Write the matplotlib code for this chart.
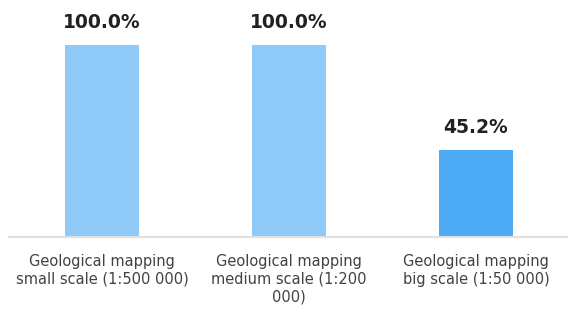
import matplotlib
matplotlib.use("Agg")
import matplotlib.pyplot as plt

categories = ["Geological mapping\nsmall scale (1:500 000)",
              "Geological mapping\nmedium scale (1:200\n000)",
              "Geological mapping\nbig scale (1:50 000)"]
values = [100.0, 100.0, 45.2]
colors = ["#90caf9", "#90caf9", "#4dabf5"]

plt.rcParams['font.family'] = ['DejaVu Sans']

fig = plt.figure(figsize=(5.68, 3.09), dpi=100)
ax = fig.add_axes([8.5 / 568, 72 / 309, 561 / 568, 237 / 309])

x = range(len(values))
ax.bar(x, values, width=0.4, color=colors, zorder=2)
for i, v in zip(x, values):
    ax.text(i, v + 9, f"{v:.1f}%", ha="center", va="baseline",
            fontsize=13.5, fontweight="bold", color="#212121")

ax.set_xlim(-0.5, 2.5)
ax.set_ylim(0, 123.4)
ax.set_yticks([])
ax.set_xticks(list(x))
ax.set_xticklabels(categories, fontsize=10.5, color="#424242", linespacing=1.25)
ax.tick_params(axis="x", length=0, pad=12)
for s in ["top", "right", "left"]:
    ax.spines[s].set_visible(False)
ax.spines["bottom"].set_color("#e0e0e0")
ax.spines["bottom"].set_linewidth(1.5)

fig.savefig("out.png", dpi=100)
